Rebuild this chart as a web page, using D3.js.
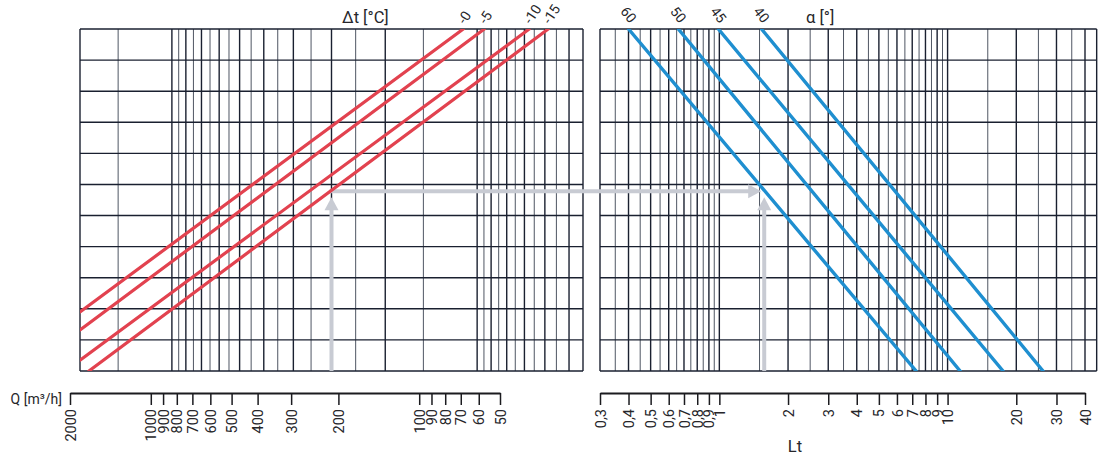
<!DOCTYPE html>
<html>
<head>
<meta charset="utf-8">
<script src="https://cdn.jsdelivr.net/npm/d3@7"></script>
<style>
  html, body { margin: 0; padding: 0; background: #fff; }
  svg { display: block; font-family: Roboto, "Liberation Sans", sans-serif; }
</style>
</head>
<body>
<svg id="chart" width="1113" height="456"></svg>
<script>
// Q axis (flow rate) tick values
const qTicks = [2000, 1000, 900, 800, 700, 600, 500, 400, 300, 200, 100, 90, 80, 70, 60, 50];
// Lt axis tick values and their printed labels
const ltTicks = [0.3, 0.4, 0.5, 0.6, 0.7, 0.8, 0.9, 1, 2, 3, 4, 5, 6, 7, 8, 9, 10, 20, 30, 40];
const ltTickLabels = ["0,3", "0,4", "0,5", "0,6", "0,7", "0,8", "0,9", "1", "2", "3", "4", "5", "6", "7", "8", "9", "10", "20", "30", "40"];

// Left nomogram grid (log), frame from 20 down to 0.45
const leftGrid = [20, 15, 10, 9.5, 9, 8.5, 8, 7.5, 7, 6.5, 6, 5.5, 5, 4.5, 4, 3.5, 3, 2.5, 2, 1.5, 1,
                  0.95, 0.9, 0.85, 0.8, 0.75, 0.7, 0.65, 0.6, 0.55, 0.5, 0.45];
const leftGridHeavy = [20, 10, 9, 8, 7, 6, 5, 4, 3, 2, 1, 0.9, 0.8, 0.7, 0.6, 0.5, 0.45];
// Right nomogram grid (same log scale as Lt), frame from 0.3 up to 45
const rightGrid = [0.3, 0.35, 0.4, 0.45, 0.5, 0.55, 0.6, 0.65, 0.7, 0.75, 0.8, 0.85, 0.9, 0.95, 1,
                   1.5, 2, 2.5, 3, 3.5, 4, 4.5, 5, 5.5, 6, 6.5, 7, 7.5, 8, 8.5, 9, 9.5, 10,
                   15, 20, 25, 30, 35, 40, 45];
const rightGridHeavy = [0.3, 0.4, 0.5, 0.6, 0.7, 0.8, 0.9, 1, 2, 3, 4, 5, 6, 7, 8, 9, 10, 20, 30, 40, 45];
// Horizontal grid rows (unlabelled)
const gridRows = [0, 1, 2, 3, 4, 5, 6, 7, 8, 9, 10, 11];

// Temperature difference lines Δt: [grid x, row] at each end
const dtLabels = ["-0", "-5", "-10", "-15"];
const dtFrom = [[20, 1.9], [20, 1.32], [20, 0.35], [18.7, 0]];
const dtTo = [[1.11, 11], [0.947, 11], [0.675, 11], [0.585, 11]];

// Angle lines α: [Lt, row] at each end
const alphaLabels = ["60", "50", "45", "40"];
const alphaFrom = [[0.4, 11], [0.661, 11], [0.99, 11], [1.53, 11]];
const alphaTo = [[7.28, 0], [11.35, 0], [17.5, 0], [26.2, 0]];

// Worked example: start at grid value 3, follow the Δt -15 line, read across to α 60
const exampleStart = 3;
const exampleDt = 3;     // index into dtLabels
const exampleAlpha = 0;  // index into alphaLabels

const svg = d3.select("#chart");

// Scales
const y = d3.scaleLinear().domain([0, 11]).range([371, 29]);
const xL = d3.scaleLog().domain([20, 0.45]).range([80, 583]);
const xR = d3.scaleLog().domain([0.3, 40]).range([600, 1085]);
const xQ = d3.scaleLog().domain([2000, 50]).range([70, 500]);

const gridColor = "#1a2030";
const lightGrid = "#4f5663";

function drawGrid(g, xs, values, heavy) {
  g.selectAll("line.v").data(values).join("line")
    .attr("class", "v")
    .attr("x1", d => xs(d)).attr("x2", d => xs(d))
    .attr("y1", y(0)).attr("y2", y(11))
    .attr("stroke", d => heavy.includes(d) ? gridColor : lightGrid)
    .attr("stroke-width", d => heavy.includes(d) ? 1.4 : 1);
  const [a, b] = d3.extent(values.map(xs));
  g.selectAll("line.h").data(gridRows).join("line")
    .attr("class", "h")
    .attr("x1", a).attr("x2", b)
    .attr("y1", d => y(d)).attr("y2", d => y(d))
    .attr("stroke", gridColor)
    .attr("stroke-width", 1.4);
}

const gl = svg.append("g");
drawGrid(gl, xL, leftGrid, leftGridHeavy);
const gr = svg.append("g");
drawGrid(gr, xR, rightGrid, rightGridHeavy);

// Clip regions for each panel
const defs = svg.append("defs");
defs.append("clipPath").attr("id", "clipL").append("rect")
  .attr("x", xL(20)).attr("y", y(11)).attr("width", xL(0.45) - xL(20)).attr("height", y(0) - y(11));
defs.append("clipPath").attr("id", "clipR").append("rect")
  .attr("x", xR(0.3)).attr("y", y(11)).attr("width", xR(45) - xR(0.3)).attr("height", y(0) - y(11));

// Example reading path
const arrowColor = "#c8cbd3";
const dA = dtFrom[exampleDt], dB = dtTo[exampleDt];
const tL = (Math.log(exampleStart) - Math.log(dA[0])) / (Math.log(dB[0]) - Math.log(dA[0]));
const exRow = dA[1] + tL * (dB[1] - dA[1]);
const aA = alphaFrom[exampleAlpha], aB = alphaTo[exampleAlpha];
const tR = (exRow - aA[1]) / (aB[1] - aA[1]);
const exLt = Math.exp(Math.log(aA[0]) + tR * (Math.log(aB[0]) - Math.log(aA[0])));

const ex = svg.append("g");
const xa = xL(exampleStart), xb = xR(exLt), ya = y(exRow) + 1;
const head = 13, halfW = 7, gap = 6;
ex.append("line").attr("x1", xa).attr("x2", xa).attr("y1", y(0)).attr("y2", ya + gap + head - 1)
  .attr("stroke", arrowColor).attr("stroke-width", 4);
ex.append("polygon")
  .attr("points", [[xa, ya + gap], [xa - halfW, ya + gap + head], [xa + halfW, ya + gap + head]].join(" "))
  .attr("fill", arrowColor);
ex.append("line").attr("x1", xa - 2).attr("x2", xb - 3 - head + 1).attr("y1", ya).attr("y2", ya)
  .attr("stroke", arrowColor).attr("stroke-width", 4);
ex.append("polygon")
  .attr("points", [[xb - 3, ya], [xb - 3 - head, ya - halfW], [xb - 3 - head, ya + halfW]].join(" "))
  .attr("fill", arrowColor);
ex.append("line").attr("x1", xb).attr("x2", xb).attr("y1", y(0)).attr("y2", ya + gap + head - 1)
  .attr("stroke", arrowColor).attr("stroke-width", 4);
ex.append("polygon")
  .attr("points", [[xb, ya + gap], [xb - halfW, ya + gap + head], [xb + halfW, ya + gap + head]].join(" "))
  .attr("fill", arrowColor);

// Δt lines
const red = "#e2424f";
svg.append("g").attr("clip-path", "url(#clipL)")
  .selectAll("line").data(dtLabels).join("line")
  .attr("x1", (d, i) => xL(dtFrom[i][0])).attr("y1", (d, i) => y(dtFrom[i][1]))
  .attr("x2", (d, i) => xL(dtTo[i][0])).attr("y2", (d, i) => y(dtTo[i][1]))
  .attr("stroke", red).attr("stroke-width", 3.2).attr("stroke-linecap", "round");

// α lines
const blue = "#1f8fd0";
svg.append("g").attr("clip-path", "url(#clipR)")
  .selectAll("line").data(alphaLabels).join("line")
  .attr("x1", (d, i) => xR(alphaFrom[i][0])).attr("y1", (d, i) => y(alphaFrom[i][1]))
  .attr("x2", (d, i) => xR(alphaTo[i][0])).attr("y2", (d, i) => y(alphaTo[i][1]))
  .attr("stroke", blue).attr("stroke-width", 3.4).attr("stroke-linecap", "round");

// Line labels
const textColor = "#26262a";
svg.append("g").selectAll("text").data(dtLabels).join("text")
  .attr("transform", (d, i) => `translate(${xL(dtTo[i][0]) + 2},${y(11) - 4}) rotate(-57)`)
  .attr("font-size", 14).attr("fill", textColor)
  .text(d => d);
svg.append("g").selectAll("text").data(alphaLabels).join("text")
  .attr("transform", (d, i) => `translate(${xR(alphaFrom[i][0]) + 1},${y(11) - 5}) rotate(52)`)
  .attr("text-anchor", "end")
  .attr("font-size", 14).attr("fill", textColor)
  .text(d => d);

svg.append("text").attr("x", 342).attr("y", 23).attr("font-size", 16.5).attr("fill", textColor).text("Δt [°C]");
svg.append("text").attr("x", 806).attr("y", 23).attr("font-size", 16.5).attr("fill", textColor).text("α [°]");

// Bottom scale bars
function styleAxis(g) {
  g.select(".domain").attr("stroke", "#1b1b1f").attr("stroke-width", 1.8);
  g.selectAll(".tick line").attr("stroke", "#1b1b1f").attr("stroke-width", 1.5);
  g.selectAll(".tick text")
    .attr("transform", "rotate(-90)")
    .attr("text-anchor", "end")
    .attr("x", -16).attr("y", 0).attr("dy", "0.35em")
    .attr("font-size", 14.5).attr("fill", textColor)
    .attr("font-family", "Roboto, 'Liberation Sans', sans-serif");
}

const axQ = svg.append("g").attr("transform", "translate(0,393)")
  .call(d3.axisBottom(xQ).tickValues(qTicks).tickFormat(d3.format("d")).tickSize(12).tickSizeOuter(0));
styleAxis(axQ);

const ltFmt = d => ltTickLabels[ltTicks.indexOf(d)];
const axLt = svg.append("g").attr("transform", "translate(0,393)")
  .call(d3.axisBottom(xR).tickValues(ltTicks).tickFormat(ltFmt).tickSize(12).tickSizeOuter(0));
styleAxis(axLt);

svg.append("text").attr("x", 62).attr("y", 404).attr("text-anchor", "end")
  .attr("font-size", 14).attr("fill", textColor).text("Q [m³/h]");
svg.append("text").attr("x", 795).attr("y", 452).attr("text-anchor", "middle")
  .attr("font-size", 16.5).attr("fill", textColor).text("Lt");
</script>
</body>
</html>
